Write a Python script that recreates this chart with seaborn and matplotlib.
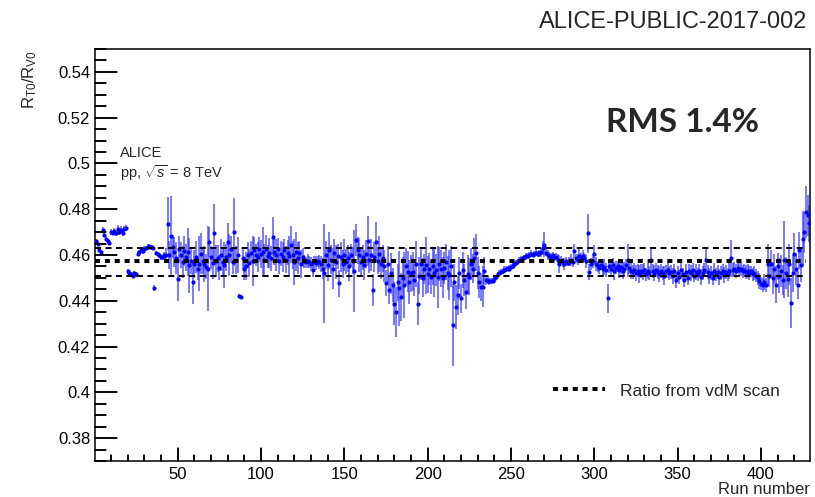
import numpy as np
import pandas as pd
import matplotlib
matplotlib.use("Agg")
import matplotlib.pyplot as plt
from matplotlib.ticker import MultipleLocator, FuncFormatter
from matplotlib.lines import Line2D
import seaborn as sns

# ---------------- data ----------------
ratio = [
    0.4662, 0.4650, 0.4622, 0.4612, 0.4710, 0.4688, 0.4672, 0.4660, 0.4652, 0.4700,
    0.4696, 0.4704, 0.4695, 0.4714, 0.4700, 0.4708, 0.4696, 0.4712, 0.4718, 0.4528,
    0.4520, 0.4515, 0.4508, 0.4522, 0.4516, 0.4606, 0.4612, 0.4620, 0.4616, 0.4628,
    0.4630, 0.4636, 0.4640, 0.4634, 0.4632, 0.4455, 0.4608, 0.4604, 0.4598, 0.4590,
    0.4590, 0.4598, 0.4600, 0.4737, 0.4600, 0.4682, 0.4636, 0.4612, 0.4588, 0.4495,
    0.4625, 0.4600, 0.4570, 0.4618, 0.4590, 0.4614, 0.4556, 0.4575, 0.4483, 0.4560,
    0.4590, 0.4540, 0.4562, 0.4605, 0.4575, 0.4560, 0.4548, 0.4541, 0.4658, 0.4590,
    0.4565, 0.4698, 0.4575, 0.4585, 0.4545, 0.4600, 0.4570, 0.4558, 0.4590, 0.4658,
    0.4600, 0.4625, 0.4570, 0.4701, 0.4578, 0.4600, 0.4420, 0.4418, 0.4585, 0.4540,
    0.4552, 0.4600, 0.4565, 0.4610, 0.4575, 0.4620, 0.4600, 0.4590, 0.4625, 0.4605,
    0.4612, 0.4580, 0.4628, 0.4595, 0.4610, 0.4585, 0.4680, 0.4615, 0.4600, 0.4625,
    0.4575, 0.4605, 0.4590, 0.4620, 0.4580, 0.4610, 0.4595, 0.4645, 0.4600, 0.4570,
    0.4615, 0.4585, 0.4610, 0.4560, 0.4590, 0.4572, 0.4568, 0.4575, 0.4570, 0.4560,
    0.4535, 0.4570, 0.4565, 0.4572, 0.4568, 0.4560, 0.4540, 0.4520, 0.4600, 0.4555,
    0.4620, 0.4580, 0.4540, 0.4610, 0.4570, 0.4595, 0.4476, 0.4590, 0.4560, 0.4600,
    0.4570, 0.4585, 0.4550, 0.4600, 0.4575, 0.4530, 0.4665, 0.4620, 0.4600, 0.4570,
    0.4590, 0.4555, 0.4605, 0.4660, 0.4580, 0.4600, 0.4446, 0.4590, 0.4658, 0.4575,
    0.4605, 0.4560, 0.4585, 0.4550, 0.4478, 0.4560, 0.4448, 0.4520, 0.4470, 0.4388,
    0.4352, 0.4480, 0.4454, 0.4417, 0.4500, 0.4468, 0.4550, 0.4527, 0.4483, 0.4520,
    0.4527, 0.4490, 0.4560, 0.4388, 0.4510, 0.4560, 0.4500, 0.4540, 0.4555, 0.4515,
    0.4540, 0.4505, 0.4550, 0.4520, 0.4535, 0.4505, 0.4560, 0.4541, 0.4500, 0.4545,
    0.4570, 0.4520, 0.4512, 0.4550, 0.4293, 0.4480, 0.4373, 0.4425, 0.4520, 0.4410,
    0.4534, 0.4490, 0.4439, 0.4515, 0.4505, 0.4560, 0.4541, 0.4588, 0.4610, 0.4520,
    0.4483, 0.4460, 0.4461, 0.4530, 0.4490, 0.4488, 0.4485, 0.4486, 0.4488, 0.4495,
    0.4502, 0.4515, 0.4520, 0.4525, 0.4530, 0.4535, 0.4538, 0.4542, 0.4540, 0.4548,
    0.4552, 0.4560, 0.4566, 0.4572, 0.4578, 0.4582, 0.4585, 0.4590, 0.4594, 0.4596,
    0.4600, 0.4605, 0.4602, 0.4606, 0.4610, 0.4604, 0.4608, 0.4612, 0.4632, 0.4645,
    0.4610, 0.4600, 0.4596, 0.4590, 0.4598, 0.4585, 0.4592, 0.4580, 0.4561, 0.4575,
    0.4568, 0.4560, 0.4572, 0.4565, 0.4570, 0.4578, 0.4568, 0.4618, 0.4585, 0.4580,
    0.4597, 0.4590, 0.4595, 0.4588, 0.4575, 0.4694, 0.4526, 0.4560, 0.4575, 0.4604,
    0.4560, 0.4550, 0.4545, 0.4558, 0.4540, 0.4548, 0.4535, 0.4410, 0.4550, 0.4540,
    0.4555, 0.4530, 0.4545, 0.4550, 0.4535, 0.4548, 0.4528, 0.4540, 0.4558, 0.4577,
    0.4545, 0.4530, 0.4525, 0.4535, 0.4520, 0.4532, 0.4518, 0.4530, 0.4525, 0.4535,
    0.4515, 0.4528, 0.4520, 0.4577, 0.4530, 0.4520, 0.4535, 0.4525, 0.4515, 0.4530,
    0.4522, 0.4510, 0.4528, 0.4535, 0.4520, 0.4525, 0.4510, 0.4530, 0.4490, 0.4520,
    0.4505, 0.4535, 0.4515, 0.4490, 0.4525, 0.4500, 0.4530, 0.4520, 0.4535, 0.4510,
    0.4525, 0.4515, 0.4530, 0.4505, 0.4520, 0.4535, 0.4577, 0.4525, 0.4510, 0.4520,
    0.4500, 0.4530, 0.4515, 0.4525, 0.4505, 0.4520, 0.4530, 0.4512, 0.4525, 0.4515,
    0.4530, 0.4585, 0.4535, 0.4540, 0.4530, 0.4545, 0.4535, 0.4540, 0.4528, 0.4535,
    0.4525, 0.4530, 0.4520, 0.4528, 0.4515, 0.4522, 0.4510, 0.4500, 0.4488, 0.4475,
    0.4470, 0.4480, 0.4468, 0.4560, 0.4510, 0.4560, 0.4500, 0.4540, 0.4470, 0.4550,
    0.4510, 0.4530, 0.4490, 0.4580, 0.4520, 0.4497, 0.4560, 0.4391, 0.4520, 0.4606,
    0.4540, 0.4468, 0.4620, 0.4556, 0.4672, 0.4700, 0.4788, 0.4774, 0.4738,
]

ratio_err = [
    0.0010, 0.0010, 0.0010, 0.0010, 0.0012, 0.0010, 0.0010, 0.0010, 0.0010, 0.0012,
    0.0010, 0.0012, 0.0010, 0.0015, 0.0012, 0.0018, 0.0012, 0.0014, 0.0012, 0.0010,
    0.0010, 0.0010, 0.0010, 0.0010, 0.0010, 0.0010, 0.0010, 0.0012, 0.0010, 0.0010,
    0.0010, 0.0012, 0.0010, 0.0010, 0.0010, 0.0012, 0.0010, 0.0010, 0.0012, 0.0010,
    0.0012, 0.0015, 0.0030, 0.0117, 0.0060, 0.0175, 0.0050, 0.0065, 0.0070, 0.0098,
    0.0060, 0.0055, 0.0070, 0.0065, 0.0060, 0.0105, 0.0120, 0.0060, 0.0095, 0.0060,
    0.0070, 0.0050, 0.0120, 0.0090, 0.0060, 0.0080, 0.0055, 0.0186, 0.0065, 0.0050,
    0.0070, 0.0125, 0.0070, 0.0060, 0.0055, 0.0070, 0.0065, 0.0100, 0.0060, 0.0080,
    0.0090, 0.0060, 0.0055, 0.0150, 0.0060, 0.0080, 0.0008, 0.0008, 0.0045, 0.0050,
    0.0060, 0.0055, 0.0060, 0.0050, 0.0110, 0.0060, 0.0050, 0.0065, 0.0055, 0.0060,
    0.0110, 0.0070, 0.0060, 0.0050, 0.0065, 0.0055, 0.0085, 0.0060, 0.0070, 0.0050,
    0.0060, 0.0055, 0.0065, 0.0050, 0.0060, 0.0055, 0.0090, 0.0080, 0.0060, 0.0100,
    0.0085, 0.0070, 0.0050, 0.0060, 0.0040, 0.0030, 0.0025, 0.0030, 0.0025, 0.0030,
    0.0030, 0.0025, 0.0030, 0.0025, 0.0030, 0.0035, 0.0045, 0.0215, 0.0060, 0.0070,
    0.0080, 0.0065, 0.0090, 0.0060, 0.0075, 0.0055, 0.0060, 0.0065, 0.0060, 0.0070,
    0.0055, 0.0060, 0.0065, 0.0050, 0.0060, 0.0178, 0.0070, 0.0060, 0.0075, 0.0060,
    0.0055, 0.0065, 0.0060, 0.0110, 0.0060, 0.0070, 0.0070, 0.0065, 0.0085, 0.0060,
    0.0080, 0.0065, 0.0060, 0.0070, 0.0055, 0.0080, 0.0060, 0.0090, 0.0075, 0.0095,
    0.0110, 0.0080, 0.0165, 0.0105, 0.0090, 0.0145, 0.0080, 0.0090, 0.0095, 0.0080,
    0.0085, 0.0070, 0.0100, 0.0095, 0.0080, 0.0070, 0.0085, 0.0065, 0.0125, 0.0080,
    0.0070, 0.0075, 0.0080, 0.0105, 0.0070, 0.0135, 0.0075, 0.0080, 0.0090, 0.0070,
    0.0080, 0.0075, 0.0110, 0.0090, 0.0180, 0.0080, 0.0095, 0.0085, 0.0070, 0.0065,
    0.0080, 0.0070, 0.0075, 0.0085, 0.0080, 0.0070, 0.0065, 0.0085, 0.0080, 0.0070,
    0.0070, 0.0060, 0.0090, 0.0060, 0.0020, 0.0015, 0.0015, 0.0012, 0.0012, 0.0012,
    0.0012, 0.0012, 0.0015, 0.0012, 0.0012, 0.0015, 0.0012, 0.0012, 0.0015, 0.0012,
    0.0012, 0.0015, 0.0012, 0.0012, 0.0015, 0.0012, 0.0012, 0.0012, 0.0015, 0.0012,
    0.0012, 0.0015, 0.0012, 0.0012, 0.0015, 0.0012, 0.0015, 0.0020, 0.0030, 0.0055,
    0.0015, 0.0020, 0.0015, 0.0020, 0.0015, 0.0020, 0.0015, 0.0025, 0.0040, 0.0020,
    0.0020, 0.0025, 0.0020, 0.0015, 0.0020, 0.0025, 0.0020, 0.0030, 0.0020, 0.0025,
    0.0030, 0.0020, 0.0025, 0.0020, 0.0030, 0.0087, 0.0035, 0.0025, 0.0030, 0.0040,
    0.0030, 0.0025, 0.0030, 0.0025, 0.0030, 0.0035, 0.0030, 0.0065, 0.0030, 0.0035,
    0.0030, 0.0040, 0.0030, 0.0025, 0.0035, 0.0030, 0.0035, 0.0030, 0.0025, 0.0073,
    0.0030, 0.0035, 0.0030, 0.0030, 0.0035, 0.0030, 0.0040, 0.0030, 0.0035, 0.0030,
    0.0030, 0.0035, 0.0030, 0.0055, 0.0030, 0.0035, 0.0030, 0.0030, 0.0035, 0.0030,
    0.0030, 0.0040, 0.0030, 0.0035, 0.0030, 0.0030, 0.0035, 0.0030, 0.0035, 0.0030,
    0.0030, 0.0035, 0.0030, 0.0030, 0.0035, 0.0030, 0.0030, 0.0035, 0.0030, 0.0030,
    0.0035, 0.0030, 0.0030, 0.0035, 0.0030, 0.0030, 0.0060, 0.0030, 0.0035, 0.0030,
    0.0030, 0.0035, 0.0030, 0.0030, 0.0035, 0.0030, 0.0030, 0.0035, 0.0030, 0.0030,
    0.0035, 0.0080, 0.0030, 0.0030, 0.0030, 0.0025, 0.0030, 0.0030, 0.0030, 0.0025,
    0.0030, 0.0030, 0.0030, 0.0025, 0.0030, 0.0030, 0.0030, 0.0030, 0.0035, 0.0030,
    0.0030, 0.0035, 0.0030, 0.0090, 0.0050, 0.0060, 0.0070, 0.0065, 0.0080, 0.0060,
    0.0075, 0.0070, 0.0065, 0.0170, 0.0070, 0.0080, 0.0090, 0.0110, 0.0080, 0.0090,
    0.0070, 0.0060, 0.0080, 0.0075, 0.0120, 0.0090, 0.0115, 0.0090, 0.0080,
]

run_number = list(range(1, len(ratio) + 1))

vdm_ratio = 0.4572          # ratio from vdM scan (thick dashed line)
vdm_band = [0.4631, 0.4510] # thin dashed lines
vdm_run_range = [0, 427]

y_ticks = [0.38, 0.40, 0.42, 0.44, 0.46, 0.48, 0.50, 0.52, 0.54]
x_ticks = [50, 100, 150, 200, 250, 300, 350, 400]

assert len(ratio) == len(ratio_err)
df = pd.DataFrame({"run": run_number, "ratio": ratio, "err": ratio_err})

# ---------------- style ----------------
sns.set_theme(style="ticks")
plt.rcParams["font.family"] = ["Liberation Sans", "DejaVu Sans"]
plt.rcParams["mathtext.fontset"] = "custom"
plt.rcParams["mathtext.rm"] = "Liberation Sans"
plt.rcParams["mathtext.it"] = "Liberation Sans:italic"

W, H = 815, 497
XMIN, XMAX, YMIN, YMAX = 0.3, 429.5, 0.37, 0.55
fig = plt.figure(figsize=(W / 100, H / 100), dpi=100)
ax = fig.add_axes([95 / W, 1 - 461 / H, (810 - 95) / W, (461 - 49) / H])
fig.patch.set_facecolor("white")
ax.set_facecolor("white")
ax.set_axisbelow(False)

# error bars + points
ax.errorbar(df["run"], df["ratio"], yerr=df["err"], fmt="none",
            ecolor=(0.2, 0.2, 1.0, 0.7), elinewidth=1.3, capsize=0, zorder=2)
sns.scatterplot(data=df, x="run", y="ratio", color="#0000ff", s=9,
                linewidth=0, ax=ax, zorder=3, legend=False)

# reference lines
ax.hlines(vdm_band, vdm_run_range[0], vdm_run_range[1], colors="black",
          linewidth=1.45, linestyles=(0, (3.0, 2.2)), zorder=4)
ax.hlines(vdm_ratio, vdm_run_range[0], vdm_run_range[1], colors="black",
          linewidth=2.9, linestyles=(0, (1.25, 1.2)), zorder=4)

# axes
ax.set_xlim(XMIN, XMAX)
ax.set_ylim(YMIN, YMAX)
ax.set_xticks(x_ticks)
ax.set_yticks(y_ticks)
ax.xaxis.set_minor_locator(MultipleLocator(10))
ax.yaxis.set_minor_locator(MultipleLocator(0.005))
ax.yaxis.set_major_formatter(FuncFormatter(lambda v, p: f"{round(v, 3):g}"))

ax.tick_params(axis="y", which="major", direction="in", length=15.6, width=1.1,
               labelsize=12, pad=3.5, colors="black", left=True, right=False)
ax.tick_params(axis="y", which="minor", direction="in", length=7.9, width=1.1,
               left=True, right=False, colors="black")
ax.tick_params(axis="x", which="major", direction="in", length=9.1, width=1.1,
               labelsize=12, pad=4, colors="black", bottom=True, top=False)
ax.tick_params(axis="x", which="minor", direction="in", length=4.3, width=1.1,
               bottom=True, top=False, colors="black")
for s in ax.spines.values():
    s.set_color("black")
    s.set_linewidth(1.1)
    s.set_visible(True)
ax.set_xlabel("")
ax.set_ylabel("")

# tick marks also drawn explicitly as axis decorations (ROOT style, inward)
ytr = ax.get_yaxis_transform()
xtr = ax.get_xaxis_transform()
for v in ax.yaxis.get_majorticklocs():
    if YMIN <= v <= YMAX:
        ax.add_line(Line2D([0, 21.7 / 715], [v, v], transform=ytr,
                           color="black", lw=1.1, clip_on=False, zorder=5))
for v in ax.yaxis.get_minorticklocs():
    if YMIN <= v <= YMAX:
        ax.add_line(Line2D([0, 11 / 715], [v, v], transform=ytr,
                           color="black", lw=1.1, clip_on=False, zorder=5))
for v in ax.xaxis.get_majorticklocs():
    if XMIN <= v <= XMAX:
        ax.add_line(Line2D([v, v], [0, 12.7 / 412], transform=xtr,
                           color="black", lw=1.1, clip_on=False, zorder=5))
for v in ax.xaxis.get_minorticklocs():
    if XMIN <= v <= XMAX:
        ax.add_line(Line2D([v, v], [0, 6 / 412], transform=xtr,
                           color="black", lw=1.1, clip_on=False, zorder=5))

# legend
handle = Line2D([], [], color="black", linewidth=2.9, linestyle=(0, (1.25, 1.2)))
ax.legend([handle], ["Ratio from vdM scan"], loc="center left",
          bbox_to_anchor=((553 - 95) / 715, (461 - 391) / 412),
          frameon=False, fontsize=12.5, handlelength=3.0, handletextpad=0.85,
          borderpad=0, borderaxespad=0)

# texts
fig.text(30 / W, 1 - 50 / H, r"$\mathregular{R_{T0}/R_{V0}}$", rotation=90,
         ha="center", va="top", fontsize=12)
fig.text(810 / W, 1 - 490 / H, "Run number", ha="right", va="center", fontsize=12)
fig.text(807 / W, 1 - 22 / H, "ALICE-PUBLIC-2017-002", ha="right", va="center",
         fontsize=17)
fig.text(683 / W, 1 - 122 / H, "RMS 1.4%", ha="center", va="center",
         fontsize=24, fontweight="bold", family=["Lato", "DejaVu Sans"])
fig.text(120 / W, 1 - 153 / H, "ALICE", ha="left", va="center", fontsize=10.5)
fig.text(120 / W, 1 - 173 / H, r"pp, $\sqrt{s}$ = 8 TeV", ha="left", va="center",
         fontsize=10.5)

fig.savefig("out.png", dpi=100, facecolor="white")
